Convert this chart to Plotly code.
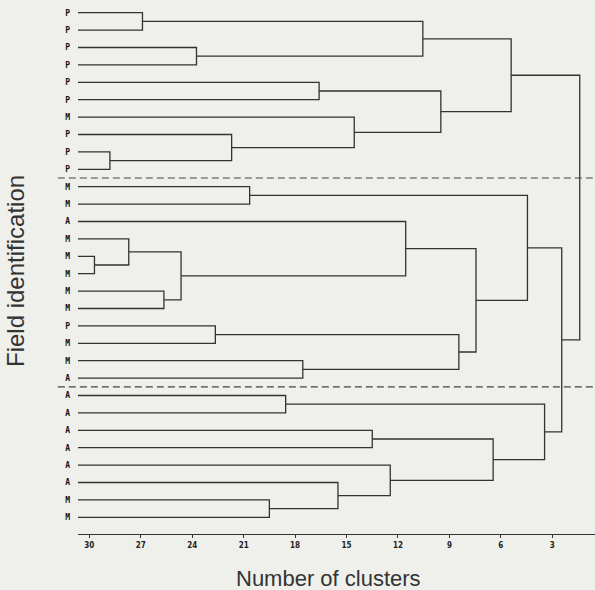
import plotly.graph_objects as go

# ---- data -------------------------------------------------------------
leaf_labels = ["P", "P", "P", "P", "P", "P", "M", "P", "P", "P",
               "M", "M", "A", "M", "M", "M", "M", "M", "P", "M", "M", "A",
               "A", "A", "A", "A", "A", "A", "M", "M"]

# linkage: (child_a, child_b, height); indices >= 30 refer to earlier merges
merge_a = [0, 2, 30, 4, 8, 7, 6, 33, 32,
           10, 14, 13, 16, 41, 12, 18, 20, 45, 44, 39,
           22, 24, 28, 27, 26, 51, 50, 49, 38]
merge_b = [1, 3, 31, 5, 9, 34, 35, 36, 37,
           11, 15, 40, 17, 42, 43, 19, 21, 46, 47, 48,
           23, 25, 29, 52, 53, 54, 55, 56, 57]
merge_h = [26.9, 23.75, 10.55, 16.6, 28.8, 21.7, 14.55, 9.5, 5.4,
           20.65, 29.7, 27.7, 25.65, 24.65, 11.55, 22.65, 17.55, 8.45, 7.45, 4.45,
           18.55, 13.5, 19.5, 15.5, 12.45, 6.45, 3.45, 2.45, 1.4]

x_ticks = [30, 27, 24, 21, 18, 15, 12, 9, 6, 3]
group_breaks = [9.5, 21.5]

# ---- layout constants ---------------------------------------------------
X_LEFT, X_RIGHT = 30.66, 0.51
Y_BOTTOM, Y_TOP = 29.96, -0.73
LINE_COL = "#333333"
BG = "#efefeb"

n = len(leaf_labels)
node_x = [X_LEFT] * n
node_y = list(range(n))
xs, ys = [], []
for a, b, h in zip(merge_a, merge_b, merge_h):
    xs += [node_x[a], h, h, node_x[b], None]
    ys += [node_y[a], node_y[a], node_y[b], node_y[b], None]
    node_x.append(h)
    node_y.append((node_y[a] + node_y[b]) / 2)

fig = go.Figure()
fig.add_trace(go.Scatter(x=xs, y=ys, mode="lines",
                         line=dict(color=LINE_COL, width=1.3),
                         hoverinfo="skip", showlegend=False))

for yb in group_breaks:
    fig.add_shape(type="line", xref="paper", yref="y",
                  x0=-0.039, x1=1.0, y0=yb, y1=yb,
                  line=dict(color="#444444", width=1.2, dash="7px,4px"))

fig.update_layout(
    width=595, height=590,
    margin=dict(l=78, r=0, t=0, b=56),
    paper_bgcolor=BG, plot_bgcolor=BG,
    showlegend=False,
    xaxis=dict(range=[X_LEFT, X_RIGHT], tickvals=x_ticks,
               ticktext=[f"<b>{t}</b>" for t in x_ticks],
               ticks="outside", ticklen=3, tickwidth=1, tickcolor=LINE_COL,
               showline=True, linecolor=LINE_COL, linewidth=1.3,
               showgrid=False, zeroline=False,
               tickfont=dict(family="DejaVu Sans Condensed, Arial", size=8,
                             color="#222")),
    yaxis=dict(range=[Y_BOTTOM, Y_TOP], tickvals=list(range(n)),
               ticktext=[f"<b>{s}</b>" for s in leaf_labels],
               ticks="", showline=False, showgrid=False, zeroline=False,
               ticklabelstandoff=7,
               tickfont=dict(family="DejaVu Sans Mono, monospace", size=8,
                             color="#111")),
    annotations=[
        dict(text="Number of clusters", xref="paper", yref="paper",
             x=(328 - 78) / 517, y=-(578 - 534) / 534, showarrow=False,
             xanchor="center", yanchor="middle",
             font=dict(family="Liberation Sans, Arial", size=22, color="#333")),
        dict(text="Field identification", xref="paper", yref="paper",
             x=-(78 - 15) / 517, y=(534 - 271) / 534, showarrow=False,
             textangle=-90, xanchor="center", yanchor="middle",
             font=dict(family="Liberation Sans, Arial", size=24, color="#333")),
    ],
)

fig.write_html("out.html")
